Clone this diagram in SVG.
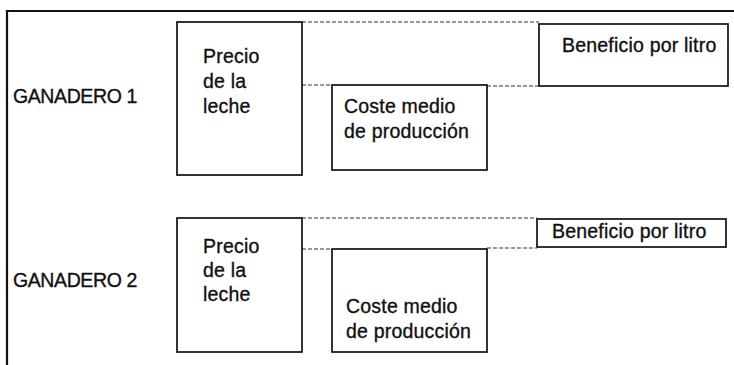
<svg xmlns="http://www.w3.org/2000/svg" width="734" height="365" viewBox="0 0 734 365">
<style>
text{font-family:"Liberation Sans",Arial,sans-serif;font-size:19.5px;letter-spacing:0.2px;fill:#111;stroke:#111;stroke-width:0.35}
.lbl{letter-spacing:-0.4px}
.box{fill:#fff;stroke:#111;stroke-width:1.7}
.dash{fill:none;stroke:#333;stroke-width:1;stroke-dasharray:4 2}
.frame{fill:none;stroke:#111;stroke-width:2.2}
</style>
<rect width="734" height="365" fill="#fff"/>
<path class="frame" d="M7,365 V11 H734"/>
<g id="connectors">
<path class="dash" d="M302,22 H539"/>
<path class="dash" d="M302,85 H332"/>
<path class="dash" d="M487,86 H539"/>
<path class="dash" d="M302,218 H537"/>
<path class="dash" d="M302,249 H332"/>
<path class="dash" d="M487,248 H537"/>
</g>
<g id="label-g1"><text class="lbl" x="13" y="103">GANADERO 1</text></g>
<g id="label-g2"><text class="lbl" x="13" y="287">GANADERO 2</text></g>
<g id="precio-1">
<rect class="box" x="177" y="22" width="125" height="153"/>
<text x="203" y="63">Precio</text>
<text x="203" y="88">de la</text>
<text x="203" y="113">leche</text>
</g>
<g id="coste-1">
<rect class="box" x="332" y="85" width="155" height="85"/>
<text x="344" y="113">Coste medio</text>
<text x="344" y="138">de producción</text>
</g>
<g id="beneficio-1">
<rect class="box" x="539" y="24" width="189" height="62"/>
<text x="562" y="52">Beneficio por litro</text>
</g>
<g id="precio-2">
<rect class="box" x="177" y="218" width="125" height="134"/>
<text x="203" y="253">Precio</text>
<text x="203" y="277">de la</text>
<text x="203" y="301">leche</text>
</g>
<g id="coste-2">
<rect class="box" x="332" y="249" width="155" height="103"/>
<text x="346" y="313">Coste medio</text>
<text x="346" y="338">de producción</text>
</g>
<g id="beneficio-2">
<rect class="box" x="537" y="219" width="189" height="28"/>
<text x="552" y="238">Beneficio por litro</text>
</g>
</svg>
